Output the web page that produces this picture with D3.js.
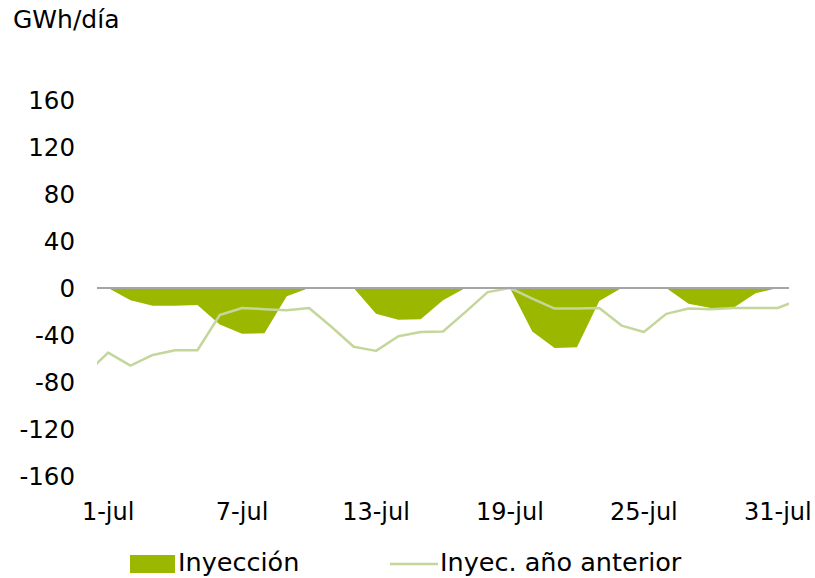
<!DOCTYPE html>
<html>
<head>
<meta charset="utf-8">
<script src="https://cdn.jsdelivr.net/npm/d3@7"></script>
<style>
  html, body { margin: 0; padding: 0; background: #ffffff; }
  svg { display: block; }
  text { font-family: "DejaVu Sans", Verdana, sans-serif; fill: #000; }
</style>
</head>
<body>
<svg id="chart" width="815" height="578"></svg>
<script>
// Daily categories for July
const categories = ["1-jul","2-jul","3-jul","4-jul","5-jul","6-jul","7-jul","8-jul","9-jul","10-jul",
  "11-jul","12-jul","13-jul","14-jul","15-jul","16-jul","17-jul","18-jul","19-jul","20-jul",
  "21-jul","22-jul","23-jul","24-jul","25-jul","26-jul","27-jul","28-jul","29-jul","30-jul","31-jul"];

// Injection this year (GWh/día)
const injection = [0, -10.5, -15, -15, -14.5, -31, -39, -38.5, -7, 0,
  0, 0, -22, -27, -26.5, -10.5, 0, 0, 0, -37,
  -51, -50.5, -11, 0, 0, 0, -13.5, -17, -17, -4.5, 0];

// Injection previous year (GWh/día), with the neighbouring days at each edge
const prevYearBefore = -73;   // 30-jun
const prevYear = [-55, -66, -57, -53, -53, -23, -17, -18, -19, -17,
  -33, -50, -53.5, -41, -37.5, -37, -20.5, -3.5, 0, -9,
  -17.5, -17.5, -17, -32, -37.5, -22, -17.5, -18, -17, -17, -17];
const prevYearAfter = -9.5;   // 1-ago

const yTicks = [160, 120, 80, 40, 0, -40, -80, -120, -160];
const xTickLabels = ["1-jul", "7-jul", "13-jul", "19-jul", "25-jul", "31-jul"];

const unitLabel = "GWh/día";
const seriesNames = ["Inyección", "Inyec. año anterior"];

const colors = { injection: "#9BB700", prev: "#C4D79B", zero: "#A5A5A5" };

const svg = d3.select("#chart");
const plot = { left: 97, right: 789, top: 100, bottom: 476 };

// Day index (1-based) to pixel: each day sits in the centre of its slot
const x = d3.scaleLinear().domain([0.5, categories.length + 0.5]).range([plot.left, plot.right]);
const y = d3.scaleLinear().domain([-160, 160]).range([plot.bottom, plot.top]);

svg.append("defs").append("clipPath").attr("id", "plotClip")
  .append("rect")
  .attr("x", plot.left).attr("y", 0)
  .attr("width", plot.right - plot.left).attr("height", 578);

// Unit label
svg.append("text").attr("x", 13).attr("y", 28)
  .style("font-size", "25px").text(unitLabel);

// Y tick labels
svg.append("g").selectAll("text").data(yTicks).join("text")
  .attr("x", 75).attr("y", d => y(d)).attr("dy", "0.36em")
  .attr("text-anchor", "end").style("font-size", "24.5px")
  .text(d => d);

// X tick labels
svg.append("g").selectAll("text").data(xTickLabels).join("text")
  .attr("x", d => x(categories.indexOf(d) + 1)).attr("y", 511).attr("dy", "0.36em")
  .attr("text-anchor", "middle").style("font-size", "24px")
  .text(d => d);

const g = svg.append("g").attr("clip-path", "url(#plotClip)");

// Injection area, filled down from zero
const injData = injection.map((v, i) => ({ day: i + 1, v }));
g.append("path").datum(injData)
  .attr("fill", colors.injection)
  .attr("d", d3.area().x(d => x(d.day)).y0(y(0)).y1(d => y(d.v)));

// Zero line
svg.append("line")
  .attr("x1", plot.left).attr("x2", plot.right)
  .attr("y1", y(0)).attr("y2", y(0))
  .attr("stroke", colors.zero).attr("stroke-width", 2);

// Previous-year line
const prevData = [{ day: 0, v: prevYearBefore }]
  .concat(prevYear.map((v, i) => ({ day: i + 1, v })))
  .concat([{ day: categories.length + 1, v: prevYearAfter }]);
g.append("path").datum(prevData)
  .attr("fill", "none").attr("stroke", colors.prev)
  .attr("stroke-width", 2.5).attr("stroke-linejoin", "round")
  .attr("d", d3.line().x(d => x(d.day)).y(d => y(d.v)));

// Legend
const legend = svg.append("g");
legend.append("rect").attr("x", 130).attr("y", 555).attr("width", 45).attr("height", 18)
  .attr("fill", colors.injection);
legend.append("text").attr("x", 178).attr("y", 571).style("font-size", "25.5px").text(seriesNames[0]);
legend.append("line").attr("x1", 390).attr("x2", 438).attr("y1", 564).attr("y2", 564)
  .attr("stroke", colors.prev).attr("stroke-width", 2.5);
legend.append("text").attr("x", 440).attr("y", 571).style("font-size", "25.5px").text(seriesNames[1]);
</script>
</body>
</html>
